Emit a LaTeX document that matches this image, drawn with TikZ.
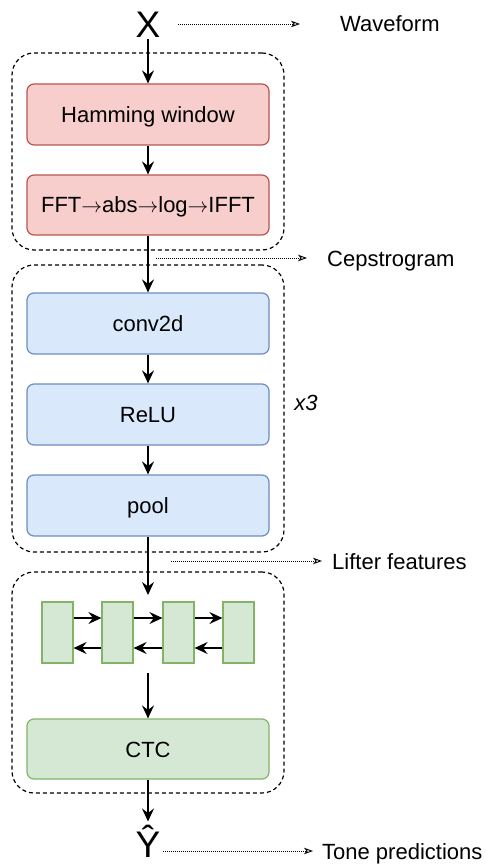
\documentclass[tikz,border=0pt]{standalone}
\usepackage{fontspec}
\setmainfont{Liberation Sans}
\usetikzlibrary{arrows.meta}
\definecolor{redfill}{HTML}{F8CECC}
\definecolor{reddraw}{HTML}{B85450}
\definecolor{bluefill}{HTML}{DAE8FC}
\definecolor{bluedraw}{HTML}{6C8EBF}
\definecolor{greenfill}{HTML}{D5E8D4}
\definecolor{greendraw}{HTML}{82B366}
\newcommand{\rarr}{\ensuremath{\rightarrow}}
\tikzset{
  arr/.style={line width=1.4pt, -{Stealth[length=13pt,width=12pt,inset=4.5pt]}},
  dotarr/.style={line width=0.9pt, dash pattern=on 1pt off 1pt, -{Stealth[open,length=9pt,width=6.5pt,inset=2.5pt,line width=0.9pt]}},
  groupbox/.style={draw, line width=1.2pt, dash pattern=on 4pt off 3pt, rounded corners=22pt, minimum width=272pt, inner sep=0pt},
  blockbox/.style={draw, line width=1.2pt, rounded corners=7pt, minimum width=242pt, minimum height=61pt, inner sep=0pt, text height=16pt, text depth=0pt, font=\fontsize{22}{26}\selectfont},
  redbox/.style={blockbox, fill=redfill, draw=reddraw},
  bluebox/.style={blockbox, fill=bluefill, draw=bluedraw},
  greenbox/.style={blockbox, fill=greenfill, draw=greendraw},
  cell/.style={draw=greendraw, fill=greenfill, line width=1.2pt, minimum width=31pt, minimum height=61pt, inner sep=0pt},
  lbl/.style={anchor=base west, inner sep=0pt, font=\fontsize{22}{26}\selectfont},
  big/.style={inner sep=0pt, font=\fontsize{37}{40}\selectfont}
}
\begin{document}
\begin{tikzpicture}[x=1pt,y=-1pt]
\useasboundingbox (0,0) rectangle (486,866);
% groups
\node[groupbox, minimum height=197pt] (g1) at (148,151.5) {};
\node[groupbox, minimum height=287pt] (g2) at (148,408.5) {};
\node[groupbox, minimum height=221pt] (g3) at (148,682.5) {};
% top input
\node[big, text height=26.5pt, text depth=0pt] (X) at (148,24) {X};
% boxes
\node[redbox] (ham) at (148,114.5) {Hamming window};
\node[redbox, minimum height=60pt] (fft) at (148,205) {FFT\rarr abs\rarr log\rarr IFFT};
\node[bluebox] (conv) at (148,323.5) {conv2d};
\node[bluebox] (relu) at (148,414.5) {ReLU};
\node[bluebox] (pool) at (148,505.5) {pool};
\node[greenbox, minimum height=60pt] (ctc) at (148,749) {CTC};
% lstm cells
\node[cell] (l1) at (57.5,632.5) {};
\node[cell] (l2) at (117.5,632.5) {};
\node[cell] (l3) at (178.5,632.5) {};
\node[cell] (l4) at (238.5,632.5) {};
% output
\node[big, anchor=base] (Y) at (148,857) {Ŷ};
% x3
\node[inner sep=0pt, font=\fontsize{22}{26}\selectfont\itshape] (rep) at (306,403) {x3};
% main arrows
\draw[arr, shorten <=1.5pt] (X) -- (ham);
\draw[arr] (ham) -- (fft);
\draw[arr] (fft) -- (conv);
\draw[arr] (conv) -- (relu);
\draw[arr] (relu) -- (pool);
\coordinate (poolend) at (148,595);
\draw[arr] (pool) -- (poolend);
\coordinate (lstmout) at (148,673);
\draw[arr] (lstmout) -- (ctc);
\draw[arr, shorten >=3pt] (ctc) -- (Y);
% lstm arrows
\foreach \a/\b in {l1/l2,l2/l3,l3/l4}{
  \draw[arr, line width=1.2pt] ([yshift=14.5pt]\a.east) -- ([yshift=14.5pt]\b.west);
  \draw[arr, line width=1.2pt] ([yshift=-15.5pt]\b.west) -- ([yshift=-15.5pt]\a.east);
}
% side labels
\coordinate (wfa) at (178,24); \coordinate (wfb) at (300,24);
\node[lbl] (wf) at (340,32) {Waveform};
\draw[dotarr] (wfa) -- (wfb);
\coordinate (cpa) at (156,258); \coordinate (cpb) at (307,258);
\node[lbl] (cp) at (327,266) {Cepstrogram};
\draw[dotarr] (cpa) -- (cpb);
\coordinate (lfa) at (171,561); \coordinate (lfb) at (322,561);
\node[lbl] (lf) at (332,569) {Lifter features};
\draw[dotarr] (lfa) -- (lfb);
\coordinate (tpa) at (163,851); \coordinate (tpb) at (313,851);
\node[lbl] (tp) at (322,859) {Tone predictions};
\draw[dotarr] (tpa) -- (tpb);
\end{tikzpicture}
\end{document}
